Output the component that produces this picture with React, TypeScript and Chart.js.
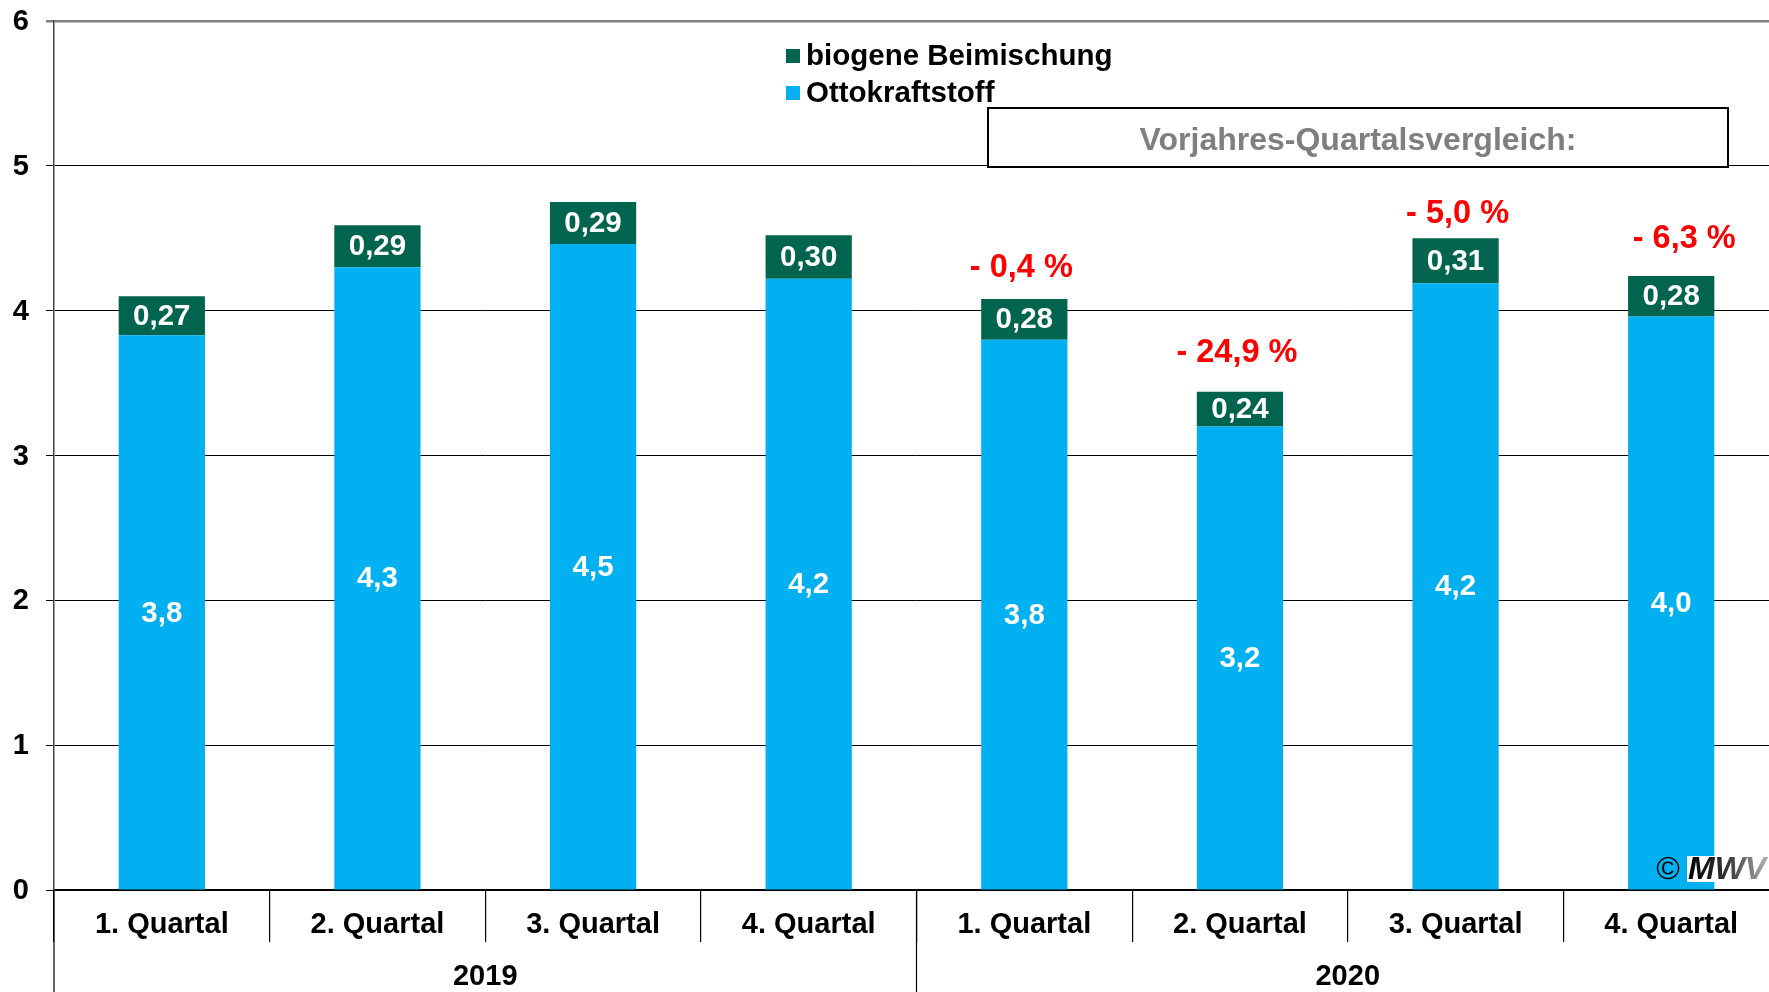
import { useEffect, useRef } from "react";
import { Chart, registerables } from "chart.js";
Chart.register(...registerables);

const categories = ["1. Quartal", "2. Quartal", "3. Quartal", "4. Quartal", "1. Quartal", "2. Quartal", "3. Quartal", "4. Quartal"];
const years = ["2019", "2020"];
const ottoValues = [3.83, 4.3, 4.46, 4.22, 3.8, 3.2, 4.19, 3.96];
const bioValues = [0.27, 0.29, 0.29, 0.3, 0.28, 0.24, 0.31, 0.28];
const yoyChange: (number | null)[] = [null, null, null, null, -0.4, -24.9, -5.0, -6.3];
const seriesNames = ["Ottokraftstoff", "biogene Beimischung"];
const comparisonTitle = "Vorjahres-Quartalsvergleich:";
const copyrightText = "©";
const logoText = "MWV";

// small pixel nudges for the free-standing percentage annotations (layout only)
const pctNudgeX = [0, 0, 0, 0, -3, -3, 2, 13];
const pctNudgeY = [0, 0, 0, 0, -31, -39, -24, -37];

const FONT = "'Liberation Sans', Arial, sans-serif";
const LIGHT = "#00B0F0";
const DARK = "#00644F";

const fmt = (v: number, d: number) => v.toFixed(d).replace(".", ",");
const fmtPct = (v: number) => (v < 0 ? "- " : "+ ") + Math.abs(v).toFixed(1).replace(".", ",") + " %";

const decorPlugin = {
  id: "decor",
  afterDatasetsDraw(chart: any) {
    const ctx = chart.ctx;
    ctx.save();
    ctx.textAlign = "center";
    ctx.textBaseline = "middle";
    chart.data.datasets.forEach((ds: any, di: number) => {
      const meta = chart.getDatasetMeta(di);
      meta.data.forEach((el: any, i: number) => {
        const v = ds.data[i];
        const y = (el.y + el.base) / 2;
        ctx.fillStyle = "#FFFFFF";
        ctx.font = `bold 29.5px ${FONT}`;
        ctx.fillText(fmt(v, di === 0 ? 1 : 2), el.x, y + 1);
      });
    });
    const topMeta = chart.getDatasetMeta(chart.data.datasets.length - 1);
    topMeta.data.forEach((el: any, i: number) => {
      const c = yoyChange[i];
      if (c === null || c === undefined) return;
      ctx.fillStyle = "#FF0000";
      ctx.font = `bold 32.5px ${FONT}`;
      ctx.fillText(fmtPct(c), el.x + pctNudgeX[i], el.y + pctNudgeY[i]);
    });
    ctx.restore();
  },
  afterDraw(chart: any) {
    const ctx = chart.ctx;
    const area = chart.chartArea;
    const xs = chart.scales.x;
    const ys = chart.scales.y;
    const H = chart.height;
    ctx.save();
    // y tick labels
    ctx.fillStyle = "#000";
    ctx.textAlign = "right";
    ctx.textBaseline = "middle";
    ctx.font = `bold 29px ${FONT}`;
    ys.ticks.forEach((t: any) => {
      ctx.fillText(String(t.value), 29, ys.getPixelForValue(t.value) + 1);
    });
    // year dividers
    ctx.strokeStyle = "#000";
    ctx.lineWidth = 1.2;
    const mid = (xs.getPixelForValue(3) + xs.getPixelForValue(4)) / 2;
    [area.left, mid].forEach((x: number) => {
      ctx.beginPath();
      ctx.moveTo(x, area.bottom);
      ctx.lineTo(x, H);
      ctx.stroke();
    });
    // category labels
    ctx.fillStyle = "#000";
    ctx.textAlign = "center";
    ctx.textBaseline = "middle";
    ctx.font = `bold 29px ${FONT}`;
    categories.forEach((c, i) => {
      ctx.fillText(c, xs.getPixelForValue(i), area.bottom + 35);
    });
    years.forEach((yr, g) => {
      const x = (xs.getPixelForValue(g * 4) + xs.getPixelForValue(g * 4 + 3)) / 2;
      ctx.fillText(yr, x, area.bottom + 87);
    });
    // legend (top series first)
    ctx.textAlign = "left";
    ctx.font = `bold 29.5px ${FONT}`;
    const legendItems = [1, 0];
    legendItems.forEach((di, row) => {
      const ds = chart.data.datasets[di];
      const cy = 56 + row * 37;
      ctx.fillStyle = ds.backgroundColor;
      ctx.fillRect(786, cy - 7, 14, 14);
      ctx.fillStyle = "#000";
      ctx.fillText(ds.label, 806, cy + 1);
    });
    // comparison box
    ctx.fillStyle = "#FFF";
    ctx.fillRect(988, 108, 740, 59);
    ctx.strokeStyle = "#000";
    ctx.lineWidth = 2;
    ctx.strokeRect(988, 108, 740, 59);
    ctx.fillStyle = "#7F7F7F";
    ctx.textAlign = "center";
    ctx.font = `bold 32px ${FONT}`;
    ctx.fillText(comparisonTitle, 1358, 141);
    // copyright
    ctx.fillStyle = "#000";
    ctx.font = `32px ${FONT}`;
    ctx.fillText(copyrightText, 1668, 870);
    ctx.fillStyle = "#FFF";
    ctx.fillRect(1687, 856, 80, 26);
    const grad = ctx.createLinearGradient(1688, 0, 1765, 0);
    grad.addColorStop(0, "#000");
    grad.addColorStop(0.5, "#333");
    grad.addColorStop(1, "#AAA");
    ctx.fillStyle = grad;
    ctx.textAlign = "left";
    ctx.font = `italic bold 32px ${FONT}`;
    ctx.fillText(logoText, 1688, 870);
    ctx.restore();
  },
};

export default function App() {
  const ref = useRef<HTMLCanvasElement | null>(null);
  useEffect(() => {
    if (!ref.current) return;
    const chart = new Chart(ref.current, {
      type: "bar",
      data: {
        labels: categories,
        datasets: [
          { label: seriesNames[0], data: ottoValues, backgroundColor: LIGHT, stack: "s", barPercentage: 0.4, categoryPercentage: 1 },
          { label: seriesNames[1], data: bioValues, backgroundColor: DARK, stack: "s", barPercentage: 0.4, categoryPercentage: 1 },
        ],
      },
      options: {
        responsive: false,
        animation: false,
        layout: { padding: { left: 0, right: 0, top: 21, bottom: 50 } },
        plugins: { legend: { display: false }, tooltip: { enabled: false } },
        scales: {
          x: {
            type: "category",
            stacked: true,
            offset: true,
            grid: { offset: true, drawOnChartArea: false, tickLength: 52, color: "#000", lineWidth: 1.2 },
            ticks: { display: false },
            border: { color: "#000", width: 1.5 },
          },
          y: {
            stacked: true,
            min: 0,
            max: 6,
            afterFit: (s: any) => { s.width = 54; s.paddingTop = 0; s.paddingBottom = 0; },
            ticks: { stepSize: 1, display: false },
            grid: {
              tickLength: 8,
              color: (c: any) => (c.tick && c.tick.value === 6 ? "#808080" : "#000"),
              lineWidth: (c: any) => (c.tick && c.tick.value === 6 ? 2.5 : 1),
            },
            border: { color: "#444", width: 1.5 },
          },
        },
      },
      plugins: [decorPlugin],
    } as any);
    return () => chart.destroy();
  }, []);
  return (
    <div style={{ position: "fixed", left: 0, top: 0, width: 1769, height: 992, overflow: "hidden", background: "#fff" }}>
      <canvas ref={ref} width={1779} height={992} style={{ display: "block" }} />
    </div>
  );
}
